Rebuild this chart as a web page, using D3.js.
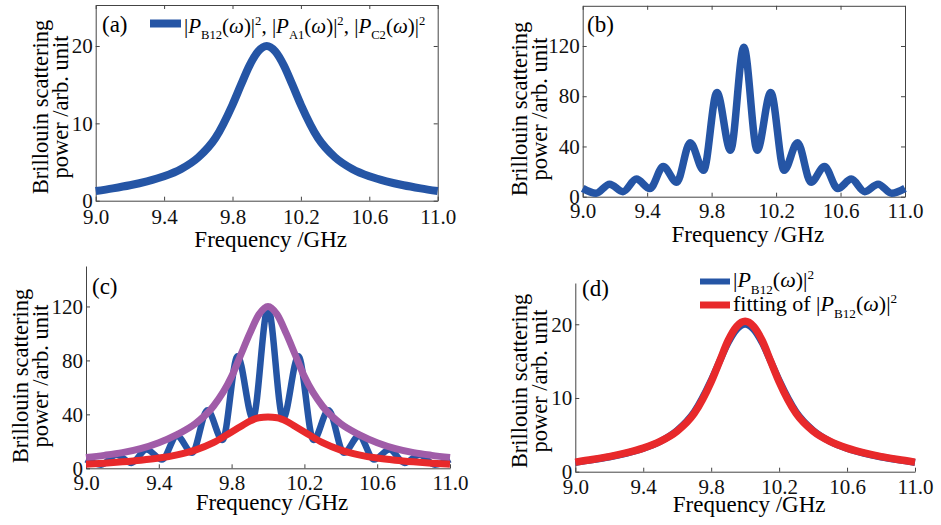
<!DOCTYPE html>
<html>
<head>
<meta charset="utf-8">
<script src="https://cdn.jsdelivr.net/npm/d3@7"></script>
</head>
<body style="margin:0; background:#fff">
<svg id="chart" width="941" height="525" font-family="Liberation Serif"></svg>
<script>
/**
 * Brillouin scattering spectra, four panels (a)-(d)
 */

// ---- data ----
// single-peak spectrum |P_B12|^2 (panels a, d)
let freqSingle = [9.0, 9.1, 9.2, 9.3, 9.4, 9.5, 9.6, 9.7, 9.8, 9.85, 9.9, 9.95, 10.0,
                  10.05, 10.1, 10.15, 10.2, 10.3, 10.4, 10.5, 10.6, 10.7, 10.8, 10.9, 11.0];
let powerSingle = [1.25, 1.6, 2.0, 2.5, 3.15, 4.1, 5.6, 8.1, 12.4, 15.0, 17.5, 19.3, 20.0,
                   19.3, 17.5, 15.0, 12.4, 8.1, 5.6, 4.1, 3.15, 2.5, 2.0, 1.6, 1.25];
let powerFit = [1.3, 1.65, 2.05, 2.55, 3.2, 4.1, 5.5, 7.9, 12.2, 15.0, 17.8, 19.7, 20.4,
                19.7, 17.8, 15.0, 12.2, 7.9, 5.5, 4.1, 3.2, 2.55, 2.05, 1.65, 1.3];

// oscillating total spectrum (panels b, c)
let freqOsc = [9.0, 9.083, 9.167, 9.25, 9.333, 9.417, 9.5, 9.583, 9.667, 9.75, 9.833, 9.917, 10.0,
               10.083, 10.167, 10.25, 10.333, 10.417, 10.5, 10.583, 10.667, 10.75, 10.833, 10.917, 11.0];
let powerOsc = [6.6, 2.7, 10, 4, 14, 6.5, 24, 11.5, 43, 21, 83, 37, 119,
                37, 83, 21, 43, 11.5, 24, 6.5, 14, 4, 10, 2.7, 6.6];

// envelopes (panel c)
let freqEnv = freqSingle;
let powerUpper = [8, 9.6, 11.6, 14.6, 19, 25, 33, 46, 68, 84, 100, 114, 120,
                  114, 100, 84, 68, 46, 33, 25, 19, 14.6, 11.6, 9.6, 8];
let powerLower = [3, 3.8, 4.8, 6, 7.6, 10, 13.5, 19, 27, 31, 35, 37.5, 38,
                  37.5, 35, 31, 27, 19, 13.5, 10, 7.6, 6, 4.8, 3.8, 3];

// ticks
let xTicks = [9.0, 9.4, 9.8, 10.2, 10.6, 11.0];
let yTicksSmall = [0, 10, 20];
let yTicksLarge = [0, 40, 80, 120];

const BLUE = "#2555a5";
const RED = "#e8292b";
const PURPLE = "#a05ca8";
const FONT = "Liberation Serif";

let svg = d3.select("#chart");

/**
 * Writes a small formula as tspans (italic, sub- and superscripts)
 */
function mathText(parent, x, y, parts, size) {
    let t = parent.append("text")
        .attr("x", x)
        .attr("y", y)
        .attr("font-family", FONT)
        .attr("font-size", size)
        .style("white-space", "pre");
    let shift = 0;
    parts.forEach(function(p) {
        let target = p.sub ? size * 0.3 : (p.sup ? -size * 0.38 : 0);
        let s = t.append("tspan").attr("dy", target - shift).text(p.t);
        shift = target;
        if (p.it) s.attr("font-style", "italic");
        if (p.sub || p.sup) s.attr("font-size", size * 0.6);
    });
    return t;
}

function pTerm(sub) {
    return [{t: "|"}, {t: "P", it: true}, {t: sub, sub: true}, {t: "("},
            {t: "\u03c9", it: true}, {t: ")|"}, {t: "2", sup: true}];
}

/**
 * Builds one panel: scales, axes, labels
 */
function panel(cfg) {
    let g = svg.append("g");
    let x = d3.scaleLinear().domain([9, 11]).range([cfg.left, cfg.right]);
    let y = d3.scaleLinear().domain([0, cfg.yMax]).range([cfg.bottom, cfg.top]);

    g.append("g")
        .attr("transform", "translate(0," + cfg.bottom + ")")
        .call(d3.axisBottom(x).tickValues(xTicks).tickFormat(d3.format(".1f"))
            .tickSizeInner(-4).tickSizeOuter(0).tickPadding(cfg.xPad));
    g.append("g")
        .attr("transform", "translate(" + cfg.left + ",0)")
        .call(d3.axisLeft(y).tickValues(cfg.yTicks)
            .tickSizeInner(-4).tickSizeOuter(0).tickPadding(3));

    if (cfg.box) {
        g.append("g")
            .attr("transform", "translate(0," + cfg.top + ")")
            .call(d3.axisTop(x).tickValues(xTicks).tickFormat("").tickSizeInner(-4).tickSizeOuter(0));
        g.append("g")
            .attr("transform", "translate(" + cfg.right + ",0)")
            .call(d3.axisRight(y).tickValues(cfg.yTicks).tickFormat("").tickSizeInner(-4).tickSizeOuter(0));
    }

    g.selectAll("g").attr("font-family", FONT);
    g.selectAll(".domain, .tick line").attr("stroke", "#444").attr("stroke-width", 1);
    g.selectAll(".tick text")
        .attr("font-size", 21)
        .attr("fill", "#111")
        .attr("font-family", FONT);

    // x title
    g.append("text")
        .attr("x", (cfg.left + cfg.right) / 2 + 4)
        .attr("y", cfg.xTitleY)
        .attr("text-anchor", "middle")
        .attr("font-family", FONT)
        .attr("font-size", 23)
        .text("Frequency /GHz");

    // y title, two lines
    ["Brillouin scattering", "power /arb. unit"].forEach(function(s, i) {
        g.append("text")
            .attr("transform", "translate(" + (cfg.yTitleX + i * 20) + "," + cfg.yTitleCy + ") rotate(-90)")
            .attr("text-anchor", "middle")
            .attr("font-family", FONT)
            .attr("font-size", 22.5)
            .text(s);
    });

    // panel tag
    g.append("text")
        .attr("x", cfg.tagX)
        .attr("y", cfg.tagY)
        .attr("font-family", FONT)
        .attr("font-size", 23)
        .text(cfg.tag);

    g.x = x;
    g.y = y;
    return g;
}

function drawLine(g, xs, ys, color, width) {
    let line = d3.line()
        .x(function(d) { return g.x(d[0]); })
        .y(function(d) { return g.y(d[1]); })
        .curve(d3.curveMonotoneX);
    g.append("path")
        .datum(d3.zip(xs, ys))
        .attr("d", line)
        .attr("fill", "none")
        .attr("stroke", color)
        .attr("stroke-width", width)
        .attr("stroke-linejoin", "round")
        .attr("stroke-linecap", "butt");
}

// ---- (a) ----
let pa = panel({left: 95.7, right: 437.7, top: 5, bottom: 200.7, yMax: 25.3, yTicks: yTicksSmall,
                box: true, xPad: 8, xTitleY: 247, yTitleX: 48, yTitleCy: 107, tag: "(a)", tagX: 102, tagY: 32});
drawLine(pa, freqSingle, powerSingle, BLUE, 8);
pa.append("line").attr("x1", 150).attr("x2", 181).attr("y1", 23.5).attr("y2", 23.5)
    .attr("stroke", BLUE).attr("stroke-width", 8);
mathText(pa, 184, 33, pTerm("B12").concat([{t: ", "}], pTerm("A1"), [{t: ", "}], pTerm("C2")), 21);

// ---- (b) ----
let pb = panel({left: 582.7, right: 905, top: 5.8, bottom: 196.7, yMax: 152, yTicks: yTicksLarge,
                box: true, xPad: 6, xTitleY: 242, yTitleX: 527, yTitleCy: 109, tag: "(b)", tagX: 587, tagY: 32});
drawLine(pb, freqOsc, powerOsc, BLUE, 7.5);

// ---- (c) ----
let pc = panel({left: 86, right: 450, top: 266, bottom: 468.3, yMax: 150, yTicks: yTicksLarge,
                box: false, xPad: 7, xTitleY: 510, yTitleX: 28, yTitleCy: 376, tag: "(c)", tagX: 92, tagY: 294});
drawLine(pc, freqOsc, powerOsc, BLUE, 6.5);
drawLine(pc, freqEnv, powerUpper, PURPLE, 7);
drawLine(pc, freqEnv, powerLower, RED, 7);

// ---- (d) ----
let pd = panel({left: 575.3, right: 915, top: 283, bottom: 471.7, yMax: 25.6, yTicks: yTicksSmall,
                box: false, xPad: 7, xTitleY: 512, yTitleX: 527, yTitleCy: 381, tag: "(d)", tagX: 582, tagY: 296});
drawLine(pd, freqSingle, powerSingle, BLUE, 7);
drawLine(pd, freqSingle, powerFit, RED, 7.5);
pd.append("line").attr("x1", 700).attr("x2", 730).attr("y1", 281.5).attr("y2", 281.5)
    .attr("stroke", BLUE).attr("stroke-width", 6);
pd.append("line").attr("x1", 700).attr("x2", 730).attr("y1", 305).attr("y2", 305)
    .attr("stroke", RED).attr("stroke-width", 7);
mathText(pd, 733, 287, pTerm("B12"), 22);
mathText(pd, 733, 311, [{t: "fitting of "}].concat(pTerm("B12")), 22);
</script>
</body>
</html>
